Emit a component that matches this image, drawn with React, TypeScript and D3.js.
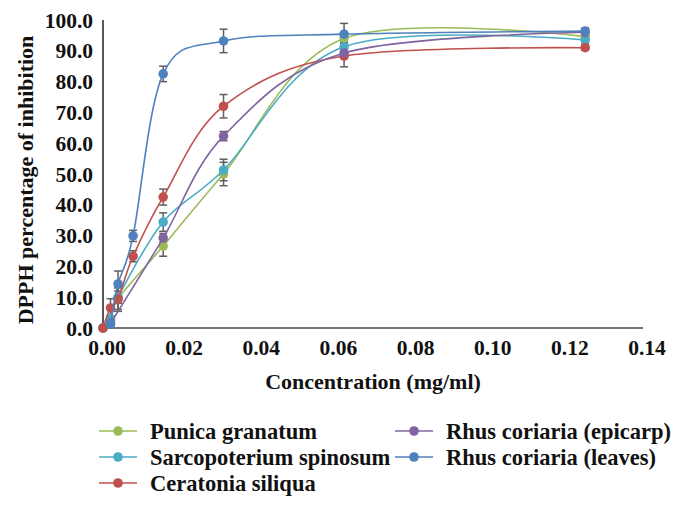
import React from "react";
import * as d3 from "d3";

const concentrations = [0, 0.00195, 0.0039, 0.0078, 0.0156, 0.03125, 0.0625, 0.125];

const seriesNames = [
  "Punica granatum",
  "Sarcopoterium spinosum",
  "Ceratonia siliqua",
  "Rhus coriaria (epicarp)",
  "Rhus coriaria (leaves)",
];
const seriesColors = ["#9BBB59", "#4BACC6", "#C0504D", "#8064A2", "#4F81BD"];

const punicaValues = [0, 2.5, 9.5, null, 26.6, 50.0, 94.0, 94.6];
const punicaErrors = [0, 1, 3.5, null, 3.3, 3.8, 1.5, 1];
const sarcoValues = [0, 3.0, 10.0, null, 34.4, 51.3, 91.3, 93.5];
const sarcoErrors = [0, 1, 2, null, 3, 3.5, 1.5, 1];
const ceratoniaValues = [0, 6.5, 9.4, 23.3, 42.5, 72.0, 88.3, 91.0];
const ceratoniaErrors = [0, 3, 4, 1.8, 2.6, 3.8, 3.5, 0.8];
const epicarpValues = [null, 1.5, null, null, 29.2, 62.3, 89.3, 96.0];
const epicarpErrors = [null, 0.5, null, null, 1.5, 1.5, 1.5, 1];
const leavesValues = [null, 1.3, 14.3, 29.9, 82.5, 93.2, 95.4, 96.4];
const leavesErrors = [null, 0.8, 4.2, 1.8, 2.5, 3.8, 3.5, 1.0];

const allValues = [punicaValues, sarcoValues, ceratoniaValues, epicarpValues, leavesValues];
const allErrors = [punicaErrors, sarcoErrors, ceratoniaErrors, epicarpErrors, leavesErrors];

const xTicks = [0, 0.02, 0.04, 0.06, 0.08, 0.1, 0.12, 0.14];
const yTicks = [0, 10, 20, 30, 40, 50, 60, 70, 80, 90, 100];

const FONT = "'Liberation Serif', 'DejaVu Serif', serif";

export default function App() {
  const W = 682, H = 511;
  const x = d3.scaleLinear().domain([0, 0.14]).range([103, 643]);
  const y = d3.scaleLinear().domain([0, 100]).range([328, 20]);

  const series = allValues.map((vals, i) =>
    concentrations
      .map((c, j) => ({ c, v: vals[j], e: allErrors[i][j] }))
      .filter((p) => p.v !== null) as { c: number; v: number; e: number }[]
  );

  const line = d3
    .line<{ c: number; v: number }>()
    .x((d) => x(d.c))
    .y((d) => y(d.v))
    .curve(d3.curveCardinal.tension(0));

  const legendItems = [
    { i: 0, lx: 99, ty: 431 },
    { i: 1, lx: 99, ty: 457 },
    { i: 2, lx: 99, ty: 483 },
    { i: 3, lx: 395, ty: 431 },
    { i: 4, lx: 395, ty: 457 },
  ];

  return (
    <svg
      width={W}
      height={H}
      style={{ position: "absolute", left: 0, top: 0, background: "#fff" }}
      fontFamily={FONT}
    >
      {/* axes */}
      <line x1={x(0)} x2={x(0)} y1={y(100)} y2={y(0)} stroke="#222" strokeWidth={1.5} />
      <line x1={x(0)} x2={x(0.14)} y1={y(0)} y2={y(0)} stroke="#444" strokeWidth={1.5} />

      {yTicks.map((t) => (
        <text
          key={"y" + t}
          x={93}
          y={y(t)}
          dy="0.35em"
          textAnchor="end"
          fontSize={21.5}
          fontWeight="bold"
          fill="#111"
        >
          {t.toFixed(1)}
        </text>
      ))}
      {xTicks.map((t) => (
        <text
          key={"x" + t}
          x={x(t) + 4}
          y={347}
          dy="0.35em"
          textAnchor="middle"
          fontSize={21.5}
          fontWeight="bold"
          fill="#111"
        >
          {t.toFixed(2)}
        </text>
      ))}

      <text
        transform={`translate(25,${(32 + 328) / 2}) rotate(-90)`}
        textAnchor="middle"
        dy="0.35em"
        fontSize={22}
        fontWeight="bold"
        fill="#111"
      >
        DPPH percentage of inhibition
      </text>
      <text
        x={373}
        y={381}
        dy="0.35em"
        textAnchor="middle"
        fontSize={22}
        fontWeight="bold"
        fill="#111"
      >
        Concentration (mg/ml)
      </text>

      {/* error bars */}
      {series.map((pts, i) =>
        pts
          .filter((p) => p.e > 0)
          .map((p, j) => {
            const cx = x(p.c);
            const y1 = y(p.v + p.e);
            const y2 = y(p.v - p.e);
            return (
              <g key={`e${i}-${j}`} stroke="#5f5f5f" strokeWidth={1.5}>
                <line x1={cx} x2={cx} y1={y1} y2={y2} />
                <line x1={cx - 4} x2={cx + 4} y1={y1} y2={y1} />
                <line x1={cx - 4} x2={cx + 4} y1={y2} y2={y2} />
              </g>
            );
          })
      )}

      {/* lines and markers */}
      {series.map((pts, i) => (
        <g key={"s" + i}>
          <path d={line(pts) || ""} fill="none" stroke={seriesColors[i]} strokeWidth={1.6} />
          {pts.map((p, j) => (
            <circle key={j} cx={x(p.c)} cy={y(p.v)} r={4.8} fill={seriesColors[i]} />
          ))}
        </g>
      ))}

      {/* legend */}
      {legendItems.map(({ i, lx, ty }) => (
        <g key={"l" + i}>
          <line x1={lx} x2={lx + 38} y1={ty} y2={ty} stroke={seriesColors[i]} strokeWidth={1.6} />
          <circle cx={lx + 19} cy={ty} r={4.8} fill={seriesColors[i]} />
          <text
            x={lx + 51}
            y={ty}
            dy="0.35em"
            fontSize={22.5}
            fontWeight="bold"
            fill="#111"
          >
            {seriesNames[i]}
          </text>
        </g>
      ))}
    </svg>
  );
}
